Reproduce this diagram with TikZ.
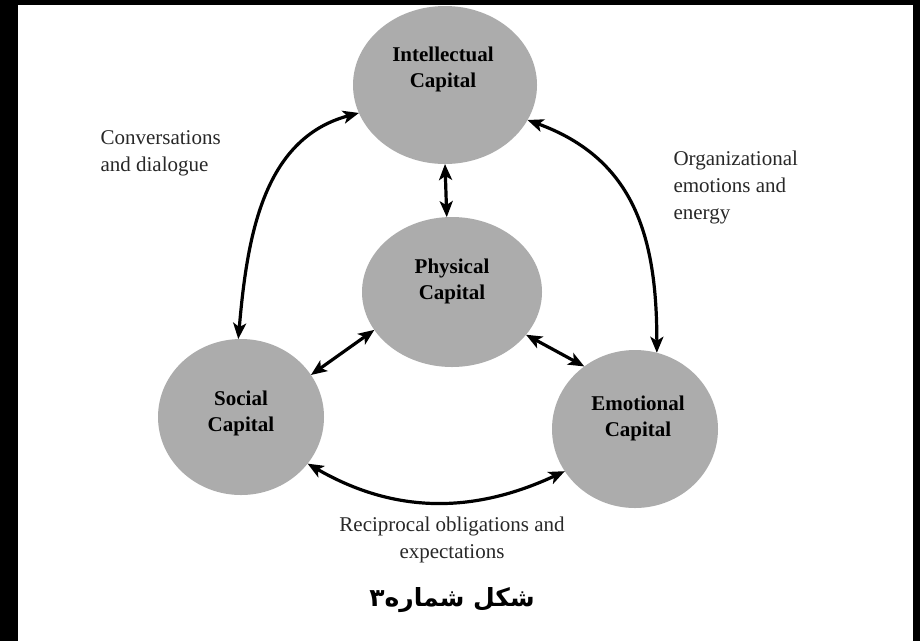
\documentclass[tikz,border=0pt]{standalone}
\usepackage{fontspec}
\setmainfont{Liberation Serif}
\newfontfamily\arabicfont[Script=Arabic]{DejaVu Sans}
\TeXXeTstate=1
\usetikzlibrary{arrows.meta,shapes.geometric}
\definecolor{capgray}{RGB}{172,172,172}
\definecolor{notegray}{RGB}{40,40,40}
\begin{document}
\begin{tikzpicture}[x=1pt,y=-1pt,
  capnode/.style={ellipse, fill=capgray, draw=none, inner sep=0pt, outer sep=0pt},
  captext/.style={font=\fontsize{21}{26}\selectfont\bfseries, align=center, text=black},
  note/.style={font=\fontsize{21}{27}\selectfont, align=left, text=notegray},
  link/.style={line width=3.2pt, {Stealth[length=16pt,width=13pt,inset=4pt]}-{Stealth[length=16pt,width=13pt,inset=4pt]}}
]
\useasboundingbox (0,0) rectangle (920,641);
\fill[white] (0,0) rectangle (920,641);
% black frame edges of the scan
\fill[black] (0,0) rectangle (920,5);
\fill[black] (0,0) rectangle (18,641);
\fill[black] (913,0) rectangle (920,641);

% capitals
\node[capnode, minimum width=184pt, minimum height=158pt] (intel) at (445,85) {};
\node[capnode, minimum width=180pt, minimum height=150pt] (phys) at (452,292) {};
\node[capnode, minimum width=166pt, minimum height=156pt] (soc) at (241,417) {};
\node[capnode, minimum width=166pt, minimum height=158pt] (emo) at (635,429) {};

\node[captext] (intelt) at (443,69) {Intellectual\\Capital};
\node[captext] (physt) at (452,281) {Physical\\Capital};
\node[captext] (soct) at (241,413) {Social\\Capital};
\node[captext] (emot) at (638,418) {Emotional\\Capital};

% connectors
\draw[link] (intel.270) -- (phys.94);
\draw[link] (phys.206) -- (soc.31);
\draw[link] (phys.330) -- (emo.129);
\draw[link] (soc.92) to[out=85, in=195] (intel.198);
\draw[link] (intel.337) to[out=-20, in=90, looseness=1.1] (emo.74);
\draw[link] (soc.325) to[out=-30, in=205] (emo.211);

% labels
\node[note, anchor=west] (conv) at (97,153.5) {Conversations\\and dialogue};
\node[note, anchor=west] (org) at (670,187) {Organizational\\emotions and\\energy};
\node[note, align=center] (recip) at (452,540) {Reciprocal obligations and\\expectations};
\node[font=\arabicfont\bfseries\fontsize{25}{30}\selectfont] (caption) at (452,600) {\beginR شکل شماره۳\endR};
\end{tikzpicture}
\end{document}
